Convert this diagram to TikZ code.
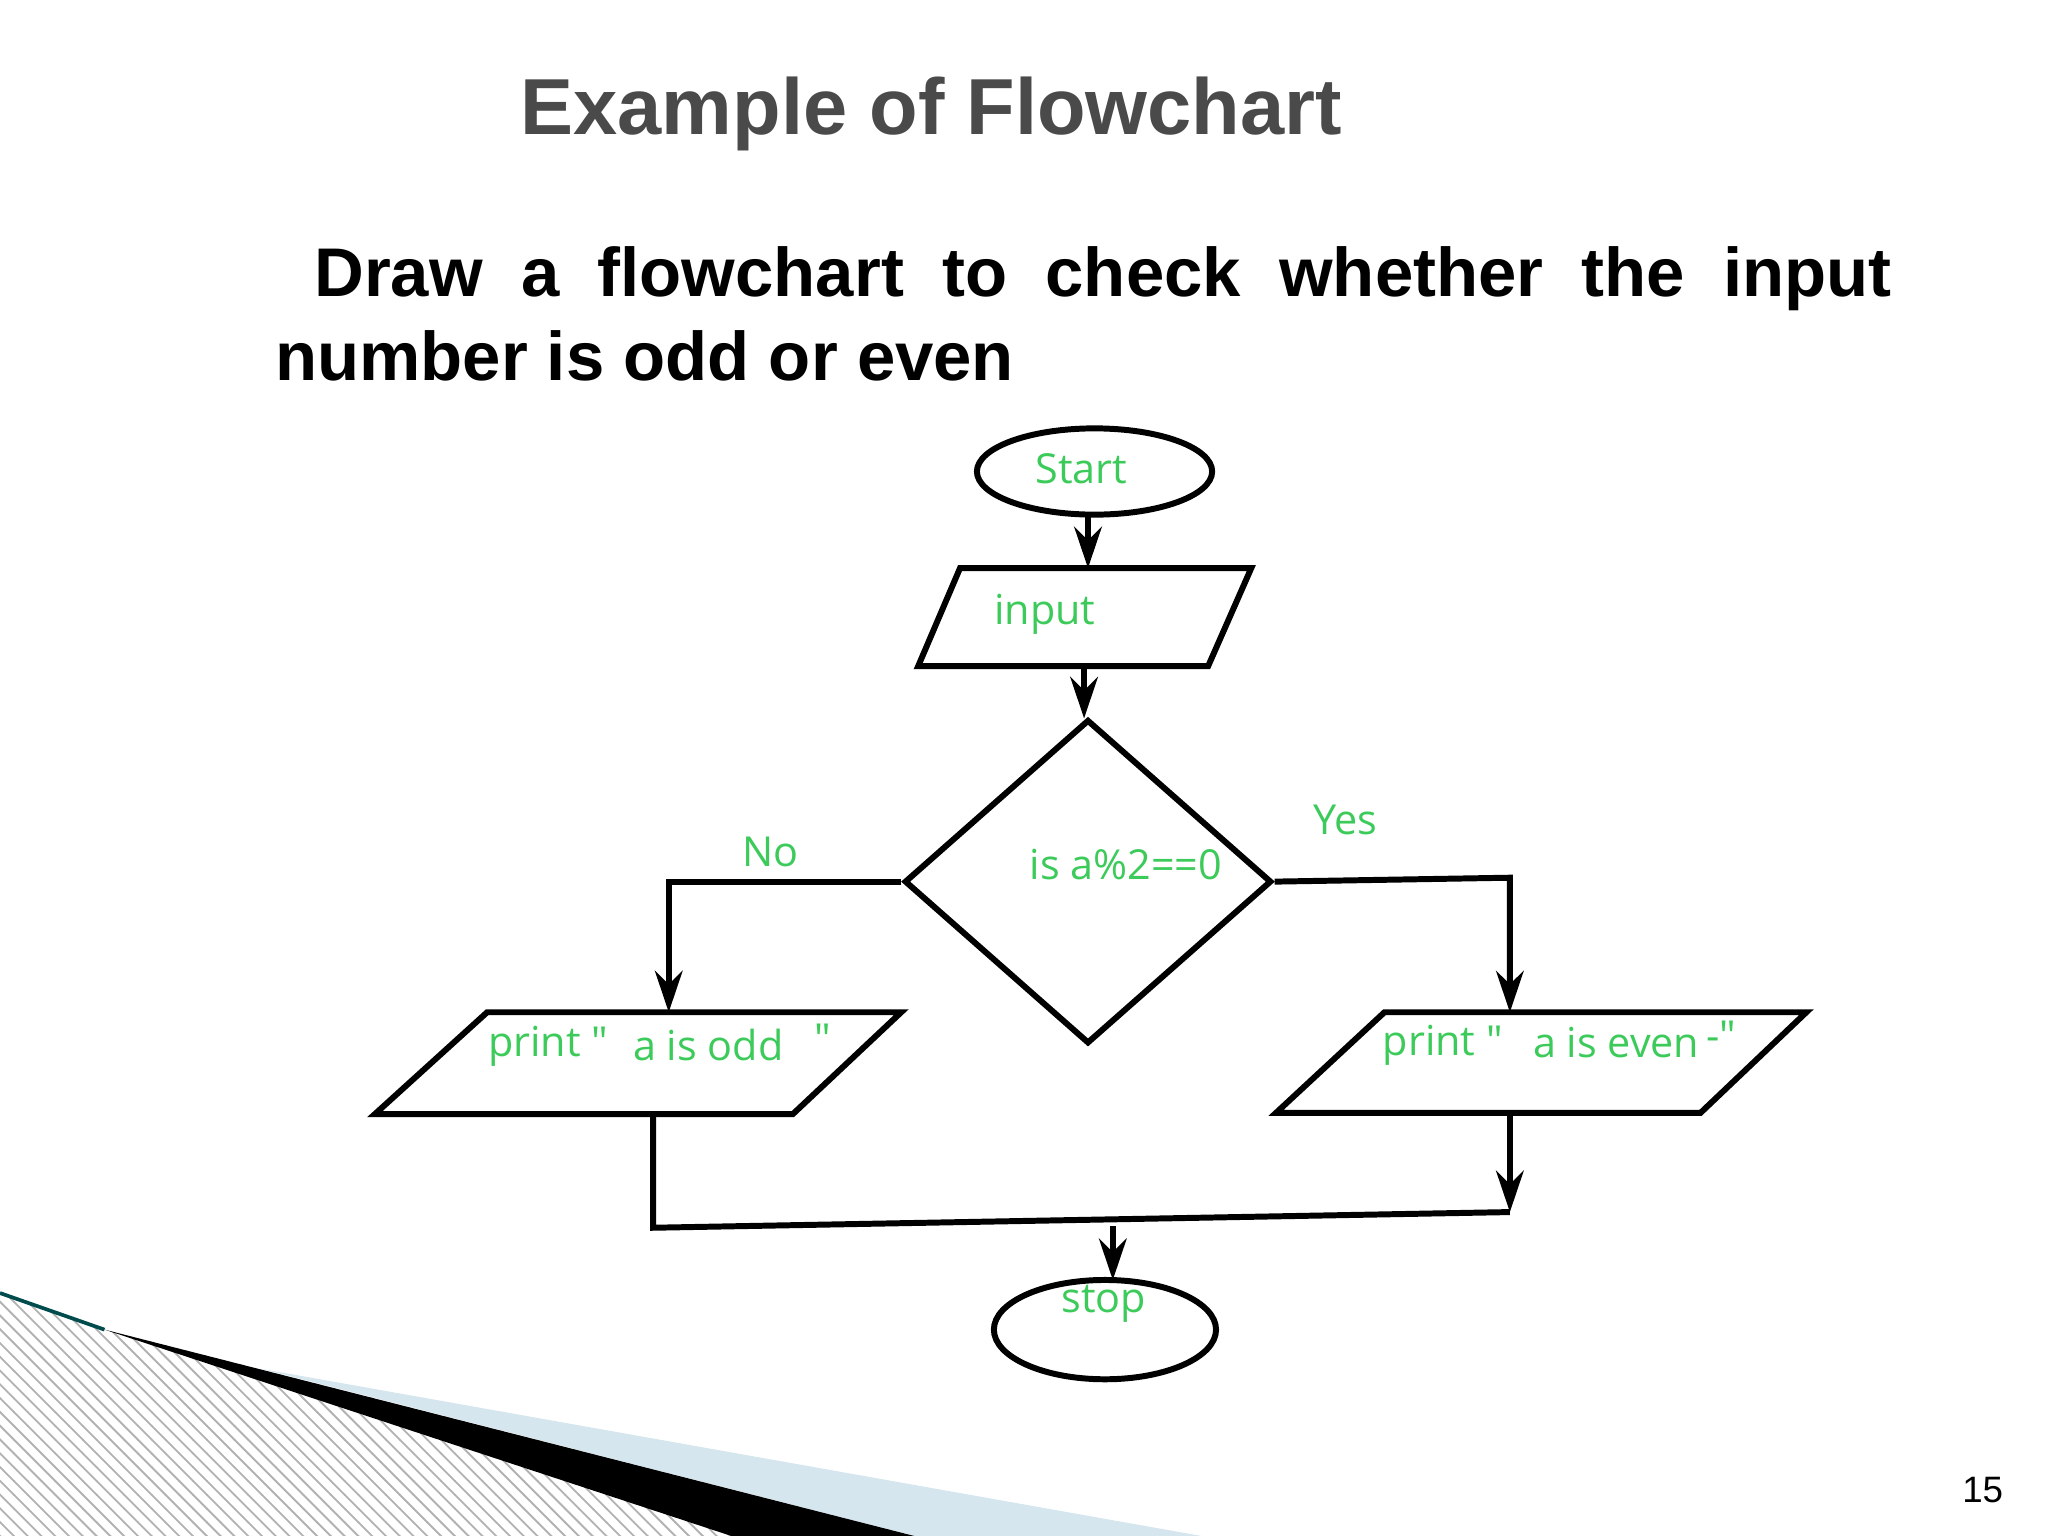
\documentclass[tikz,border=0pt]{standalone}
\usepackage{fontspec}
\setmainfont{Liberation Sans}
\newfontfamily\dfont{Open Sans}
\usetikzlibrary{shapes.geometric,arrows.meta,patterns}
\definecolor{tgray}{HTML}{4A4A4A}
\definecolor{fgreen}{HTML}{3CCB5A}
\definecolor{lblue}{HTML}{D6E6EE}
\tikzset{
  shp/.style={draw=black,line width=1.3pt},
  lbl/.style={text=fgreen,font=\dfont\fontsize{9}{11}\selectfont,inner sep=0pt},
  arr/.style={line width=1.3pt,-{Stealth[length=9pt,width=6pt]}},
  ln/.style={line width=1.3pt}
}
\begin{document}
\begin{tikzpicture}[x=0.01cm,y=-0.01cm]
\useasboundingbox (0,0) rectangle (1568,1176);
% decoration
\fill[pattern=north west lines,pattern color=gray!60] (0,990) -- (80,1018) -- (700,1176) -- (0,1176) -- cycle;
\fill[lblue] (200,1048) -- (920,1176) -- (700,1176) -- cycle;
\fill[black] (80,1018) -- (700,1176) -- (560,1176) -- cycle;
\draw[color=teal!60!black,line width=0.8pt] (0,990) -- (80,1018);
% titles
\node[text=tgray,font=\bfseries\fontsize{17.3}{21}\selectfont] (title) at (713,87) {Example of Flowchart};
\node[anchor=north west,text width=12.37cm,align=justify,font=\bfseries\fontsize{15}{18.3}\selectfont,inner sep=0pt] (task) at (210,188)
 {\hspace*{0.3cm}Draw a flowchart to check whether the input number is odd or even};
\node[font=\fontsize{8}{10}\selectfont] (pg) at (1518,1141) {15};
% start
\node[shp,ellipse,minimum width=1.8cm,minimum height=0.66cm,inner sep=0pt] (start) at (838,361) {};
\node[lbl] (starttxt) at (828,359) {Start};
\coordinate (startBot) at (833,395);
% input
\coordinate (inTop) at (833,435);
\coordinate (inBot) at (830,510);
\coordinate (decTop) at (830,550);
\draw[shp] (735,435) -- (958,435) -- (925,510) -- (703,510) -- cycle;
\node[lbl] (inputtxt) at (800,470) {input};
\draw[arr] (startBot) -- (inTop);
% diamond
\node[shp,diamond,minimum width=2.81cm,minimum height=2.48cm,inner sep=0pt,aspect=1.13] (dec) at (833,675) {};
\node[lbl] (dectxt) at (862,662) {is a\%2==0};
\draw[arr] (inBot) -- (decTop);
\node[lbl] (no) at (590,652) {No};
\node[lbl] (yes) at (1030,628) {Yes};
% branches
\coordinate (oddTop) at (512,775);
\coordinate (evenTop) at (1156,775);
\draw[shp] (373,775) -- (690,775) -- (607,853) -- (287,853) -- cycle;
\draw[shp] (1060,775) -- (1383,775) -- (1302,852) -- (977,852) -- cycle;
\node[lbl,anchor=west] (oddp) at (373,801) {print "};
\node[lbl,anchor=west] (oddt) at (484,800) {a is odd};
\node[lbl] (oddq) at (630,795) {"};
\node[lbl,anchor=west] (evenp) at (1058,800) {print "};
\node[lbl,anchor=west] (event) at (1173,798) {a is even};
\node[lbl] (evenq) at (1318,793) {-"};
\draw[arr] (dec.west) -- (512,675) -- (oddTop);
\draw[arr] (dec.east) -- (1156,672) -- (evenTop);
% merge
\coordinate (oddBot) at (500,853);
\coordinate (evenBot) at (1156,852);
\coordinate (mL) at (500,940);
\coordinate (mR) at (1156,928);
\draw[ln] (oddBot) -- (mL) -- (1156,928);
\draw[arr] (evenBot) -- (mR);
% stop
\node[shp,ellipse,minimum width=1.7cm,minimum height=0.76cm,inner sep=0pt] (stop) at (846,1018) {};
\node[lbl] (stoptxt) at (845,998) {stop};
\coordinate (mC) at (852,939);
\coordinate (stopTop) at (852,980);
\draw[arr] (mC) -- (stopTop);
\end{tikzpicture}
\end{document}
